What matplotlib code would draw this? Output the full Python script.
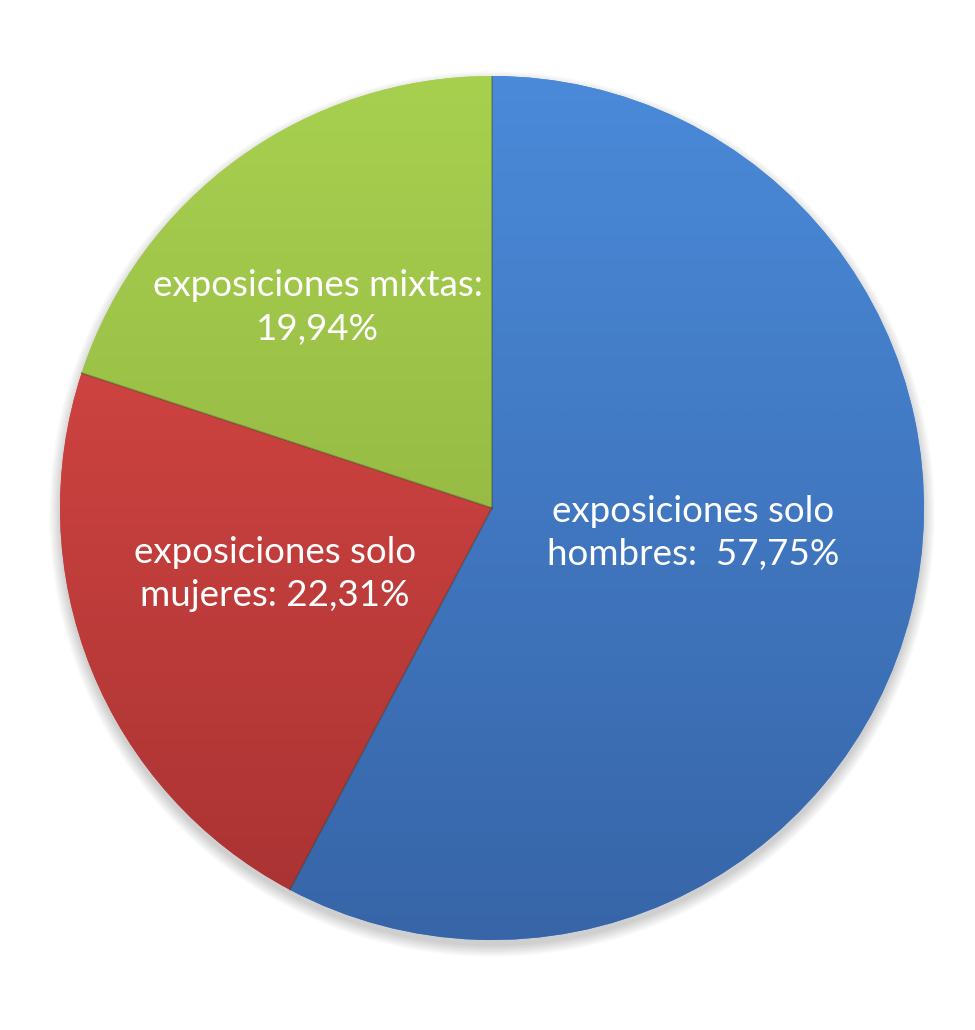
import numpy as np
import matplotlib
matplotlib.use("Agg")
import matplotlib.pyplot as plt
from matplotlib.colors import LinearSegmentedColormap
from matplotlib.patches import Ellipse

categories = ["exposiciones solo\nhombres:  57,75%",
              "exposiciones solo\nmujeres: 22,31%",
              "exposiciones mixtas:\n19,94%"]
values = [57.75, 22.31, 19.94]
top_colors = ["#4a8ad9", "#e04c48", "#a8d04f"]
bottom_colors = ["#3765a8", "#a83232", "#87a83b"]
# label placement (radius fraction, angle in degrees)
label_pos = [(0.47, -7.0), (0.525, 197.0), (0.615, 131.0)]

W, H = 975, 1030
fig = plt.figure(figsize=(W / 100, H / 100), dpi=100)
cx, cy, R = 492, 508, 432
ax = fig.add_axes([(cx - R) / W, (H - cy - R) / H, 2 * R / W, 2 * R / H])
ax.axis("off")

# soft shadow
for i in range(8):
    e = Ellipse((0.0, -0.014), 2.0 + 0.007 * i, 2.0 + 0.007 * i,
                facecolor="#000000", alpha=0.025, edgecolor="none", zorder=0,
                clip_on=False)
    ax.add_patch(e)

wedges, _ = ax.pie(values, startangle=90, counterclock=False, radius=1.0,
                   colors=top_colors, wedgeprops=dict(linewidth=0))

grad = np.linspace(0, 1, 256).reshape(-1, 1)
for w, tc, bc in zip(wedges, top_colors, bottom_colors):
    cmap = LinearSegmentedColormap.from_list("g", [tc, bc])
    im = ax.imshow(grad, cmap=cmap, extent=[-1, 1, -1, 1], origin="upper",
                   aspect="auto", zorder=2, interpolation="bilinear")
    im.set_clip_path(w)
    w.set_zorder(1)

# subtle edges between wedges
for w in wedges:
    ax.plot([0, np.cos(np.radians(w.theta1))], [0, np.sin(np.radians(w.theta1))],
            color="#2a3a20", lw=1.2, alpha=0.35, zorder=3)

for text, (r, a) in zip(categories, label_pos):
    ax.text(r * np.cos(np.radians(a)), r * np.sin(np.radians(a)), text,
            ha="center", va="center", color="white", fontsize=26.5,
            family=["Lato", "DejaVu Sans"], linespacing=1.38, zorder=5)

ax.set_xlim(-1, 1)
ax.set_ylim(-1, 1)
ax.set_aspect("equal")

fig.savefig("out.png", dpi=100, facecolor="white")
